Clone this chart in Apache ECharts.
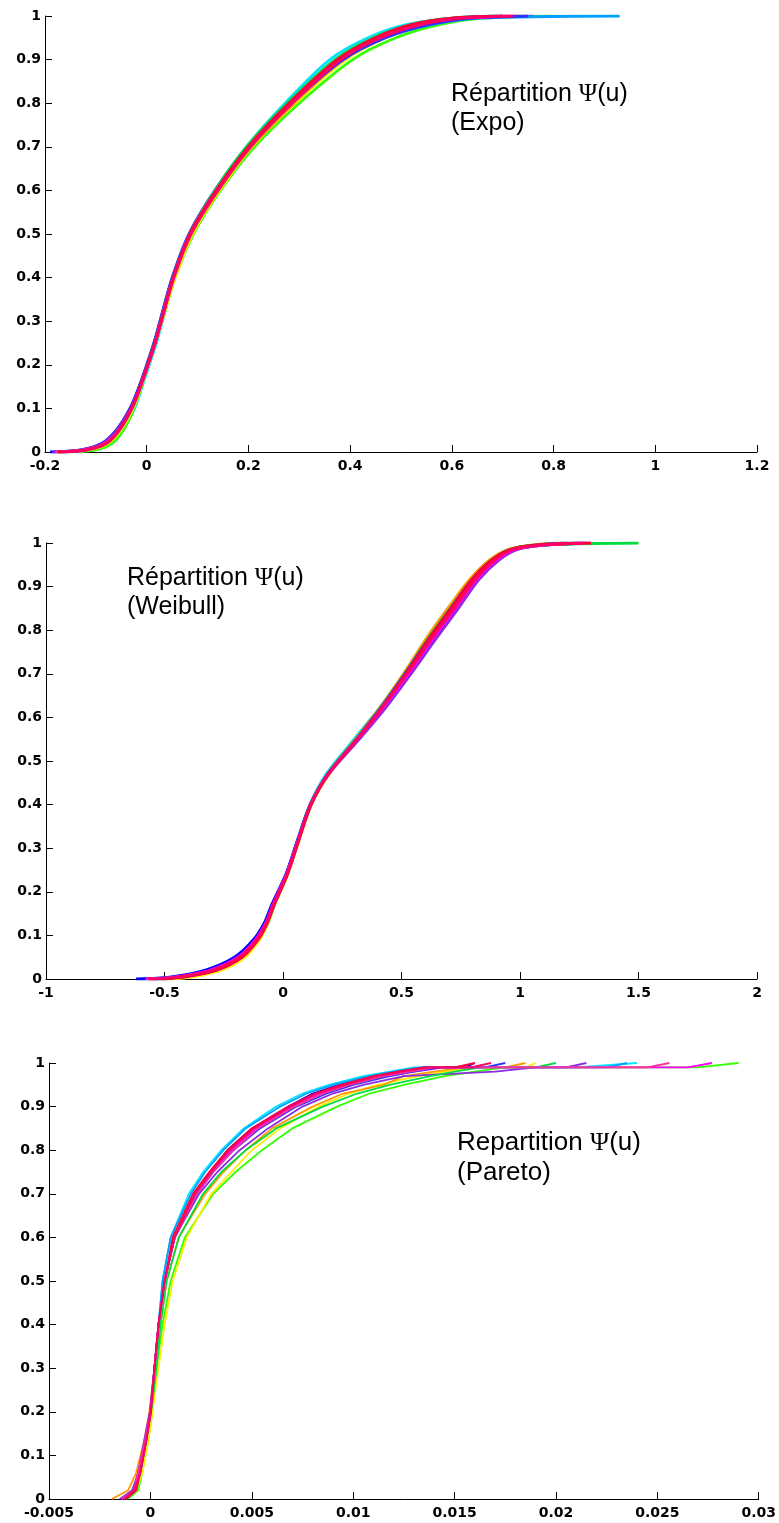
<!DOCTYPE html>
<html>
<head>
<meta charset="utf-8">
<script src="https://cdn.jsdelivr.net/npm/echarts@6/dist/echarts.min.js"></script>
<style>html,body{margin:0;padding:0;background:#fff}#c{width:779px;height:1523px}</style>
</head>
<body>
<div id="c"></div>
<script>
// ---------- Panel 1 : Expo ----------
const expoP = [0, 0.005, 0.02, 0.05, 0.1, 0.15, 0.2, 0.25, 0.3, 0.4, 0.5, 0.6, 0.7, 0.8, 0.9, 0.95, 0.98, 0.995, 1];
const expoCurves = [
  [-0.16, -0.105, -0.07, -0.047, -0.024, -0.009, 0.005, 0.019, 0.031, 0.055, 0.087, 0.137, 0.196, 0.272, 0.36, 0.435, 0.51, 0.6, 0.68],
  [-0.15, -0.1, -0.068, -0.046, -0.025, -0.01, 0.003, 0.017, 0.03, 0.056, 0.092, 0.145, 0.212, 0.3, 0.405, 0.49, 0.575, 0.66, 0.8],
  [-0.17, -0.112, -0.076, -0.051, -0.027, -0.011, 0.003, 0.017, 0.03, 0.056, 0.09, 0.143, 0.207, 0.292, 0.392, 0.47, 0.55, 0.64, 0.74],
  [-0.165, -0.115, -0.078, -0.053, -0.029, -0.012, 0.002, 0.016, 0.029, 0.054, 0.088, 0.141, 0.206, 0.29, 0.385, 0.462, 0.54, 0.62, 0.72],
  [-0.19, -0.13, -0.088, -0.06, -0.033, -0.015, 0.0, 0.014, 0.026, 0.05, 0.083, 0.134, 0.197, 0.278, 0.373, 0.45, 0.53, 0.61, 0.7],
  [-0.185, -0.127, -0.086, -0.059, -0.032, -0.014, 0.001, 0.015, 0.027, 0.051, 0.084, 0.135, 0.198, 0.279, 0.378, 0.458, 0.545, 0.63, 0.76],
  [-0.17, -0.118, -0.08, -0.054, -0.029, -0.012, 0.002, 0.016, 0.028, 0.052, 0.085, 0.136, 0.2, 0.283, 0.383, 0.465, 0.56, 0.65, 0.93],
  [-0.175, -0.12, -0.081, -0.055, -0.03, -0.013, 0.001, 0.015, 0.027, 0.051, 0.084, 0.134, 0.196, 0.276, 0.37, 0.445, 0.52, 0.6, 0.69],
  [-0.18, -0.123, -0.083, -0.056, -0.031, -0.013, 0.002, 0.016, 0.028, 0.053, 0.086, 0.138, 0.202, 0.284, 0.38, 0.456, 0.535, 0.615, 0.73],
  [-0.172, -0.12, -0.082, -0.056, -0.031, -0.014, 0.001, 0.015, 0.027, 0.051, 0.085, 0.137, 0.201, 0.285, 0.387, 0.47, 0.555, 0.64, 0.75],
  [-0.178, -0.122, -0.082, -0.055, -0.03, -0.013, 0.002, 0.016, 0.028, 0.052, 0.085, 0.137, 0.2, 0.28, 0.375, 0.45, 0.525, 0.605, 0.71],
  [-0.175, -0.12, -0.08, -0.055, -0.03, -0.013, 0.002, 0.016, 0.028, 0.052, 0.085, 0.137, 0.2, 0.28, 0.375, 0.45, 0.52, 0.6, 0.7],
  [-0.168, -0.117, -0.079, -0.054, -0.029, -0.012, 0.003, 0.017, 0.029, 0.053, 0.087, 0.14, 0.204, 0.286, 0.382, 0.46, 0.54, 0.62, 0.72]
];
const expoTicks = { min: -0.2, max: 1.2, interval: 0.2 };

// ---------- Panel 2 : Weibull ----------
const weibP = [0, 0.005, 0.02, 0.05, 0.09, 0.13, 0.17, 0.24, 0.32, 0.4, 0.47, 0.55, 0.62, 0.7, 0.78, 0.85, 0.915, 0.96, 0.985, 0.995, 1];
const weibCurves = [
  [-0.6, -0.46, -0.32, -0.2, -0.12, -0.075, -0.045, 0.013, 0.062, 0.113, 0.182, 0.3, 0.405, 0.515, 0.615, 0.71, 0.8, 0.88, 0.96, 1.06, 1.2],
  [-0.5, -0.4, -0.27, -0.165, -0.1, -0.062, -0.035, 0.02, 0.068, 0.12, 0.192, 0.312, 0.41, 0.512, 0.608, 0.7, 0.79, 0.87, 0.95, 1.05, 1.15],
  [-0.48, -0.38, -0.26, -0.16, -0.1, -0.063, -0.036, 0.02, 0.069, 0.12, 0.195, 0.318, 0.42, 0.525, 0.625, 0.72, 0.81, 0.895, 0.975, 1.08, 1.22],
  [-0.52, -0.42, -0.285, -0.178, -0.108, -0.066, -0.038, 0.018, 0.066, 0.116, 0.188, 0.305, 0.405, 0.508, 0.603, 0.695, 0.785, 0.87, 0.95, 1.05, 1.18],
  [-0.62, -0.47, -0.33, -0.205, -0.125, -0.078, -0.048, 0.012, 0.062, 0.115, 0.192, 0.32, 0.428, 0.535, 0.64, 0.735, 0.82, 0.9, 0.98, 1.1, 1.3],
  [-0.56, -0.44, -0.3, -0.19, -0.115, -0.071, -0.042, 0.015, 0.064, 0.117, 0.193, 0.322, 0.43, 0.54, 0.645, 0.74, 0.825, 0.91, 0.99, 1.1, 1.28],
  [-0.53, -0.42, -0.28, -0.175, -0.107, -0.066, -0.038, 0.018, 0.067, 0.118, 0.19, 0.31, 0.413, 0.52, 0.62, 0.716, 0.8, 0.885, 0.965, 1.07, 1.25],
  [-0.55, -0.43, -0.29, -0.18, -0.11, -0.068, -0.04, 0.016, 0.065, 0.116, 0.188, 0.308, 0.408, 0.513, 0.612, 0.705, 0.795, 0.88, 0.96, 1.07, 1.5],
  [-0.58, -0.45, -0.31, -0.19, -0.117, -0.072, -0.043, 0.014, 0.064, 0.116, 0.19, 0.316, 0.42, 0.53, 0.632, 0.728, 0.815, 0.9, 0.98, 1.09, 1.26],
  [-0.54, -0.425, -0.288, -0.178, -0.109, -0.067, -0.039, 0.017, 0.066, 0.117, 0.189, 0.31, 0.41, 0.515, 0.615, 0.708, 0.795, 0.88, 0.96, 1.07, 1.2],
  [-0.55, -0.43, -0.29, -0.18, -0.11, -0.068, -0.04, 0.017, 0.066, 0.117, 0.19, 0.312, 0.413, 0.52, 0.62, 0.715, 0.802, 0.887, 0.968, 1.08, 1.24],
  [-0.51, -0.41, -0.28, -0.172, -0.105, -0.065, -0.037, 0.019, 0.068, 0.119, 0.192, 0.314, 0.415, 0.518, 0.615, 0.708, 0.795, 0.878, 0.958, 1.06, 1.3],
  [-0.57, -0.44, -0.3, -0.185, -0.113, -0.07, -0.041, 0.016, 0.065, 0.116, 0.19, 0.313, 0.416, 0.524, 0.626, 0.722, 0.81, 0.893, 0.972, 1.085, 1.27]
];
const weibTicks = { min: -1, max: 2, interval: 0.5 };

// ---------- Panel 3 : Pareto ----------
const parP = [0, 0.02, 0.06, 0.135, 0.2, 0.3, 0.4, 0.5, 0.6, 0.7, 0.75, 0.8, 0.85, 0.9, 0.93, 0.95, 0.97, 0.98, 0.99, 0.99, 1];
const parCurves = [
  [-0.0012, -0.0007, -0.0005, -0.0002, 0.00002, 0.0002, 0.0004, 0.0006, 0.001, 0.0019, 0.0026, 0.0035, 0.0046, 0.0062, 0.0075, 0.0088, 0.0105, 0.0118, 0.013, 0.021, 0.024],
  [-0.0011, -0.0006, -0.0004, -0.0001, 0.0001, 0.0003, 0.0006, 0.001, 0.0017, 0.0031, 0.0042, 0.0055, 0.007, 0.0092, 0.0108, 0.0125, 0.0145, 0.016, 0.0175, 0.027, 0.029],
  [-0.0013, -0.0007, -0.0004, -0.0001, 0.0001, 0.0004, 0.0007, 0.0011, 0.0018, 0.003, 0.004, 0.005, 0.0064, 0.0083, 0.0098, 0.0112, 0.0132, 0.0145, 0.016, 0.0185, 0.019],
  [-0.0019, -0.0011, -0.0007, -0.0003, -0.00005, 0.0002, 0.0005, 0.0008, 0.0014, 0.0027, 0.0036, 0.0047, 0.006, 0.008, 0.0095, 0.0115, 0.0125, 0.014, 0.0155, 0.0175, 0.0185],
  [-0.0013, -0.0008, -0.0006, -0.00025, 0.0, 0.0002, 0.0004, 0.0007, 0.0012, 0.0022, 0.003, 0.0038, 0.005, 0.0068, 0.008, 0.0093, 0.011, 0.0122, 0.0135, 0.0155, 0.016],
  [-0.0015, -0.0009, -0.0006, -0.0003, -0.00003, 0.0002, 0.0004, 0.0007, 0.0012, 0.0024, 0.0033, 0.0044, 0.0058, 0.0075, 0.009, 0.0105, 0.0125, 0.017, 0.019, 0.0205, 0.0215],
  [-0.0014, -0.0008, -0.0006, -0.00025, 0.0, 0.0002, 0.0004, 0.0006, 0.001, 0.002, 0.0027, 0.0036, 0.0047, 0.0064, 0.0077, 0.009, 0.0108, 0.012, 0.0133, 0.0225, 0.0235],
  [-0.0012, -0.0007, -0.0005, -0.0002, 0.00003, 0.0003, 0.0005, 0.0008, 0.0014, 0.0026, 0.0035, 0.0047, 0.0062, 0.0085, 0.0102, 0.0118, 0.0138, 0.015, 0.0163, 0.019, 0.02],
  [-0.0014, -0.0008, -0.0006, -0.00025, 0.0, 0.0002, 0.0004, 0.0007, 0.0012, 0.0022, 0.003, 0.004, 0.0052, 0.007, 0.0084, 0.0098, 0.0117, 0.013, 0.0145, 0.0265, 0.0277],
  [-0.0013, -0.0008, -0.0005, -0.0002, 0.00002, 0.0002, 0.0004, 0.0007, 0.0012, 0.0023, 0.0031, 0.0041, 0.0054, 0.0072, 0.0087, 0.01, 0.0118, 0.013, 0.0143, 0.0165, 0.0175],
  [-0.0014, -0.0008, -0.0006, -0.00025, 0.0, 0.0002, 0.0004, 0.0007, 0.0012, 0.0023, 0.0031, 0.0041, 0.0053, 0.0071, 0.0085, 0.0098, 0.0115, 0.0128, 0.014, 0.0245, 0.0256],
  [-0.0012, -0.0007, -0.0005, -0.0002, 0.00003, 0.0002, 0.0004, 0.0007, 0.0011, 0.0021, 0.0029, 0.0038, 0.005, 0.0068, 0.0081, 0.0094, 0.011, 0.0122, 0.0135, 0.015, 0.016],
  [-0.0013, -0.0008, -0.0005, -0.0002, 0.00001, 0.0002, 0.0004, 0.0007, 0.0012, 0.0022, 0.003, 0.0039, 0.0051, 0.0069, 0.0082, 0.0096, 0.0112, 0.0124, 0.0137, 0.0158, 0.0168]
];
const parTicks = { min: -0.005, max: 0.03, interval: 0.005 };

const yTicks = { min: 0, max: 1, interval: 0.1 };

const palette = ['#00e5ff', '#33ff00', '#ffee00', '#ff9900', '#0000ff', '#8a2be2', '#00a0ff',
                 '#00dd44', '#ff00ff', '#3030ff', '#ff3399', '#ff0033', '#ff0066'];

const labelsText = [
  { title: 'Répartition ', sub: '(Expo)', left: 451, top: 82, size: 25 },
  { title: 'Répartition ', sub: '(Weibull)', left: 127, top: 566, size: 25 },
  { title: 'Repartition ', sub: '(Pareto)', left: 457, top: 1130, size: 26 }
];

const chart = echarts.init(document.getElementById('c'), null, { renderer: 'canvas' });

const grids = [
  { left: 45, top: 16, width: 712, height: 436 },
  { left: 46, top: 543, width: 711, height: 436 },
  { left: 49, top: 1063, width: 710, height: 436 }
];

const labelFont = { color: '#000', fontFamily: 'DejaVu Sans', fontWeight: 'bold', fontSize: 14 };

function xAxisCfg(idx, t, dec) {
  return {
    type: 'value', gridIndex: idx, min: t.min, max: t.max, interval: t.interval,
    axisLine: { show: true, onZero: false, lineStyle: { color: '#000', width: 1 } },
    axisTick: { show: true, inside: true, length: 7, lineStyle: { color: '#000' } },
    splitLine: { show: false },
    axisLabel: Object.assign({ margin: 7, formatter: v => String(+v.toFixed(dec)) }, labelFont)
  };
}
function yAxisCfg(idx) {
  return {
    type: 'value', gridIndex: idx, min: yTicks.min, max: yTicks.max, interval: yTicks.interval,
    axisLine: { show: true, onZero: false, lineStyle: { color: '#000', width: 1 } },
    axisTick: { show: true, inside: true, length: 7, lineStyle: { color: '#000' } },
    splitLine: { show: false },
    axisLabel: Object.assign({ margin: 4, formatter: v => String(+v.toFixed(1)) }, labelFont)
  };
}

const series = [];
function addPanel(idx, P, curves, smooth, width) {
  curves.forEach((xs, i) => {
    series.push({
      type: 'line', xAxisIndex: idx, yAxisIndex: idx,
      data: xs.map((x, k) => [x, P[k]]),
      showSymbol: false, symbol: 'none', silent: true,
      smooth: smooth,
      lineStyle: { width: width, color: palette[i % palette.length] },
      z: 2
    });
  });
}
addPanel(0, expoP, expoCurves, 0.3, 2.8);
addPanel(1, weibP, weibCurves, 0.3, 2.8);
addPanel(2, parP, parCurves, false, 1.8);

const graphic = labelsText.map(l => ({
  type: 'text', left: l.left, top: l.top, z: 10,
  style: {
    text: '{a|' + l.title + '}{b|Ψ}{a|(u)}\n{a|' + l.sub + '}',
    rich: {
      a: { fontFamily: 'Liberation Sans', fontSize: l.size, lineHeight: l.size + 4, fill: '#000', color: '#000' },
      b: { fontFamily: 'Liberation Serif', fontSize: l.size, lineHeight: l.size + 4, fill: '#000', color: '#000' }
    }
  }
}));

chart.setOption({
  animation: false,
  backgroundColor: '#fff',
  grid: grids,
  xAxis: [xAxisCfg(0, expoTicks, 1), xAxisCfg(1, weibTicks, 1), xAxisCfg(2, parTicks, 3)],
  yAxis: [yAxisCfg(0), yAxisCfg(1), yAxisCfg(2)],
  series: series,
  graphic: graphic
});
</script>
</body>
</html>
